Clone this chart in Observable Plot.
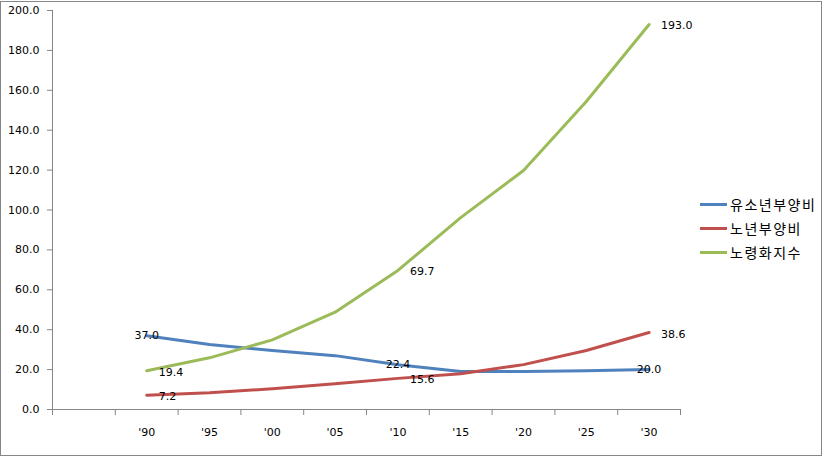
<!DOCTYPE html>
<html>
<head>
<meta charset="utf-8">
<script src="https://cdn.jsdelivr.net/npm/d3@7"></script>
<script src="https://cdn.jsdelivr.net/npm/@observablehq/plot@0.6"></script>
<style>
  html, body { margin: 0; padding: 0; background: #fff; }
  #wrap { position: relative; width: 824px; height: 457px; overflow: hidden; }
  #border { position: absolute; left: 0; top: 1px; width: 820px; height: 453px; border: 1px solid #868686; pointer-events: none; }
  #legend { position: absolute; left: 700px; top: 192px; font-family: "Noto Sans CJK KR", sans-serif; font-size: 14px; letter-spacing: 1.5px; color: #000; }
  #legend .row { display: flex; align-items: center; height: 24px; }
  #legend .sw { width: 27px; height: 3px; margin-right: 3px; }
</style>
</head>
<body>
<div id="wrap"><div id="chart"></div><div id="legend"></div><div id="border"></div></div>
<script>
// Categories (first band is empty in the original)
const categories = ["", "'90", "'95", "'00", "'05", "'10", "'15", "'20", "'25", "'30"];
const years = ["'90", "'95", "'00", "'05", "'10", "'15", "'20", "'25", "'30"];
const seriesNames = ["유소년부양비", "노년부양비", "노령화지수"];
const youth   = [37.0, 32.6, 29.6, 27.0, 22.4, 19.0, 19.0, 19.4, 20.0];
const elderly = [7.2, 8.4, 10.4, 12.9, 15.6, 17.9, 22.5, 29.6, 38.6];
const aging   = [19.4, 25.9, 34.9, 48.8, 69.7, 96.2, 119.8, 154.4, 193.0];
const labeledYears = ["'90", "'10", "'30"];
const yTicks = [0, 20, 40, 60, 80, 100, 120, 140, 160, 180, 200];
const colors = ["#4F81BD", "#C0504D", "#9BBB59"];

const seriesValues = [youth, elderly, aging];
const data = seriesNames.flatMap((s, si) =>
  years.map((yr, i) => ({series: s, year: yr, idx: categories.indexOf(yr) + 0.5, value: seriesValues[si][i]}))
);
const labels = data.filter(d => labeledYears.includes(d.year));
const bandEdges = d3.range(0, categories.length + 1);
const bandCenters = categories.map((c, i) => i + 0.5);

const plot = Plot.plot({
  width: 824,
  height: 457,
  marginLeft: 52,
  marginRight: 144,
  marginTop: 10,
  marginBottom: 48,
  style: {fontFamily: "'DejaVu Sans', sans-serif", fontSize: "11px", color: "#000", background: "transparent"},
  x: {type: "linear", domain: [0, categories.length]},
  y: {domain: [0, 200]},
  color: {domain: seriesNames, range: colors},
  marks: [
    Plot.axisY({ticks: yTicks, tickFormat: d3.format(".1f"), tickSize: 5, tickPadding: 8, stroke: "#868686", strokeOpacity: 1, label: null}),
    Plot.ruleX([0], {y1: 0, y2: 200, stroke: "#868686"}),
    Plot.ruleY([0], {stroke: "#868686"}),
    Plot.axisX({ticks: bandEdges, tickFormat: () => "", tickSize: 6, stroke: "#868686", strokeOpacity: 1, label: null}),
    Plot.axisX({ticks: bandCenters, tickFormat: (d) => categories[Math.floor(d)], tickSize: 0, tickPadding: 19, label: null}),
    Plot.line(data, {x: "idx", y: "value", z: "series", stroke: "series", strokeWidth: 3}),
    Plot.text(labels.filter(d => d.series === seriesNames[0]), {x: "idx", y: "value", text: d => d3.format(".1f")(d.value), fill: "#000"}),
    Plot.text(labels.filter(d => d.series !== seriesNames[0]), {x: "idx", y: "value", text: d => d3.format(".1f")(d.value), textAnchor: "start", dx: 12, dy: 1.5, fill: "#000"})
  ]
});
document.getElementById("chart").appendChild(plot);

const legend = document.getElementById("legend");
seriesNames.forEach((s, i) => {
  const row = document.createElement("div");
  row.className = "row";
  row.innerHTML = `<div class="sw" style="background:${colors[i]}"></div><span>${s}</span>`;
  legend.appendChild(row);
});
</script>
</body>
</html>
